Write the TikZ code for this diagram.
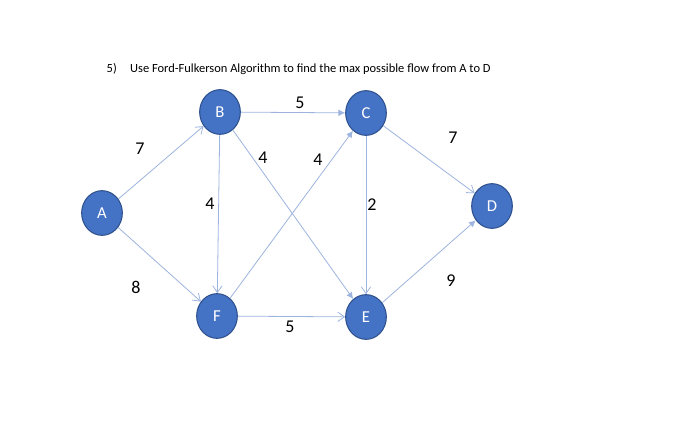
\documentclass[tikz,border=0pt]{standalone}
\usepackage{fontspec}
\setmainfont{Carlito}
\usetikzlibrary{arrows.meta,shapes.geometric}
\definecolor{nodefill}{HTML}{4472C4}
\definecolor{nodeline}{HTML}{2F528F}
\definecolor{edgecol}{HTML}{9DB4DF}
\begin{document}
\begin{tikzpicture}[x=0.75pt,y=-0.75pt,
  vert/.style={ellipse,draw=nodeline,line width=0.8pt,fill=nodefill,minimum width=30.5pt,minimum height=33.5pt,inner sep=0pt,text=white,font=\fontsize{12.5}{12.5}\selectfont},
  openarr/.style={draw=edgecol,line width=0.6pt,-{Straight Barb[length=5pt,width=7pt]}},
  fillarr/.style={draw=edgecol,line width=0.6pt,-{Latex[length=5pt,width=5pt]}},
  wlab/.style={font=\fontsize{13.5}{13.5}\selectfont,text=black}]
\useasboundingbox (0,0) rectangle (700,446);
\fill[white] (0,0) rectangle (700,446);
\node[anchor=west,font=\fontsize{9.35}{10}\selectfont] (title) at (102,69) {5)\hspace{10pt}Use Ford-Fulkerson Algorithm to find the max possible flow from A to D};
\node[vert] (A) at (102,213) {A};
\node[vert] (B) at (220,112) {B};
\node[vert] (C) at (366,113) {C};
\node[vert] (D) at (492,206) {D};
\node[vert] (F) at (217,316) {F};
\node[vert] (E) at (366,317) {E};
\draw[openarr] (A) -- (B);
\draw[openarr] (A) -- (F);
\draw[fillarr] (B) -- (C);
\draw[openarr] (B) -- (F);
\draw[fillarr] (B) -- (E);
\draw[fillarr] (F) -- (C);
\draw[openarr] (F) -- (E);
\draw[openarr] (C) -- (E);
\draw[openarr] (C) -- (D);
\draw[fillarr] (E) -- (D);
\node[wlab] (l1) at (140,149) {7};
\node[wlab] (l2) at (136,287) {8};
\node[wlab] (l3) at (300,103) {5};
\node[wlab] (l4) at (263,158) {4};
\node[wlab] (l5) at (318,160) {4};
\node[wlab] (l6) at (210,204) {4};
\node[wlab] (l7) at (372,205) {2};
\node[wlab] (l8) at (453,138) {7};
\node[wlab] (l9) at (451,281) {9};
\node[wlab] (l10) at (290,327) {5};
\end{tikzpicture}
\end{document}
